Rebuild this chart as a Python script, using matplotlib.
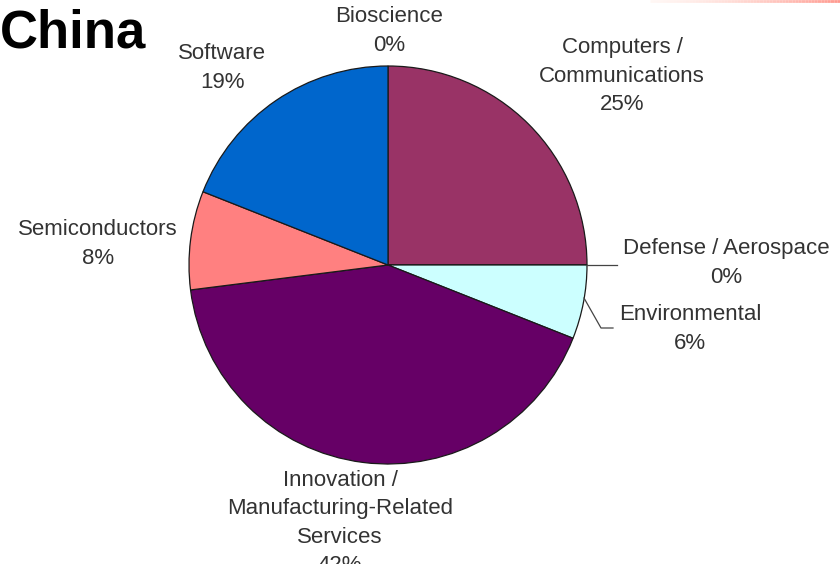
import matplotlib
matplotlib.use("Agg")
import matplotlib.pyplot as plt
import numpy as np
from matplotlib.collections import LineCollection

plt.rcParams['font.family'] = ['Liberation Sans', 'DejaVu Sans']

# Sector shares, clockwise from 12 o'clock
categories = ["Bioscience", "Computers /\nCommunications", "Defense / Aerospace",
              "Environmental", "Innovation /\nManufacturing-Related\nServices",
              "Semiconductors", "Software"]
shares = [0, 25, 0, 6, 42, 8, 19]
colors = ["#3366cc", "#993366", "#ffffe0", "#ccffff", "#660066", "#ff8080", "#0066cc"]

W, H = 840, 564
fig = plt.figure(figsize=(W / 100, H / 100), dpi=100)
ax = fig.add_axes([0, 0, 1, 1])
ax.set_xlim(0, W)
ax.set_ylim(0, H)
ax.set_aspect('equal')
ax.axis('off')

cx, cy, r = 388, H - 265, 199
ax.pie(shares, colors=colors, startangle=90, counterclock=False,
       center=(cx, cy), radius=r,
       wedgeprops=dict(edgecolor='#1a1a1a', linewidth=0.9))
ax.set_xlim(0, W)
ax.set_ylim(0, H)

txt = dict(fontsize=16, color='#333333', ha='center', va='center',
           linespacing=1.45)

def label(x, y, name, val):
    ax.text(x, H - y, f"{name}\n{val}%", **txt)

label(389, 31, "Bioscience", shares[0])
label(622, 76, "Computers /\nCommunications", shares[1])
label(726, 263, "Defense / Aerospace", shares[2])
label(690, 329, "Environmental", shares[3])
label(340, 523, "Innovation /\nManufacturing-Related\nServices", shares[4])
label(222, 68, "Software", shares[6])
label(98, 244, "Semiconductors", shares[5])

# leader lines
ax.plot([586, 617], [H - 265, H - 265], color='#444444', lw=0.9)
ax.plot([584, 601, 613], [H - 298, H - 328, H - 328], color='#444444', lw=0.9)

# Title
ax.text(0, H - 33, "China", fontsize=38, fontweight='bold', color='black',
        ha='left', va='center')

# thin accent rule at the top-right edge
xs = np.linspace(650, 840, 60)
segs = [[(xs[i], H - 0.8), (xs[i + 1], H - 0.8)] for i in range(len(xs) - 1)]
cols = [(1.0, 0.85 - 0.35 * t, 0.8 - 0.35 * t, 0.2 + 0.6 * t)
        for t in np.linspace(0, 1, len(segs))]
ax.add_collection(LineCollection(segs, colors=cols, linewidths=2))

fig.savefig("out.png", dpi=100)
